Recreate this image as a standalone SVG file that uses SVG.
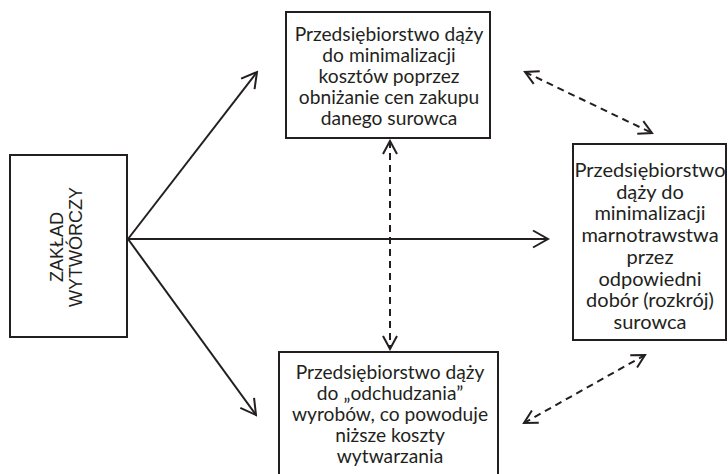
<svg xmlns="http://www.w3.org/2000/svg" width="728" height="474" viewBox="0 0 728 474">
  <style>
    .box { fill: #ffffff; stroke: #231f20; stroke-width: 2; }
    .txt { font-family: Lato, "Open Sans", "DejaVu Sans", sans-serif; font-size: 19.2px; fill: #231f20; text-anchor: middle; }
    .big { font-size: 20px; }
    .cap { font-family: "Liberation Sans", Arial, sans-serif; font-size: 18px; fill: #231f20; text-anchor: middle; }
    .solid { fill: none; stroke: #231f20; stroke-width: 2; }
    .dash { fill: none; stroke: #231f20; stroke-width: 2; stroke-dasharray: 7 5; }
  </style>
  <defs>
    <marker id="head" viewBox="-17 -10 19 20" refX="0" refY="0" markerWidth="19" markerHeight="20" markerUnits="userSpaceOnUse" orient="auto-start-reverse">
      <path d="M-15,-8.5 L0,0 L-15,8.5" fill="none" stroke="#231f20" stroke-width="2"/>
    </marker>
    <marker id="dhead" viewBox="-15 -9 17 18" refX="0" refY="0" markerWidth="17" markerHeight="18" markerUnits="userSpaceOnUse" orient="auto-start-reverse">
      <path d="M-13,-7 L0,0 L-13,7" fill="none" stroke="#231f20" stroke-width="2"/>
    </marker>
  </defs>

  <!-- connectors -->
  <g id="connectors">
    <line class="solid" x1="128" y1="239" x2="257" y2="72" marker-end="url(#head)"/>
    <line class="solid" x1="128" y1="239" x2="548" y2="239" marker-end="url(#head)"/>
    <line class="solid" x1="128" y1="239" x2="256" y2="415" marker-end="url(#head)"/>
    <line class="dash" x1="390" y1="141" x2="390" y2="349" marker-start="url(#dhead)" marker-end="url(#dhead)"/>
    <line class="dash" x1="525" y1="72" x2="652" y2="133" marker-start="url(#dhead)" marker-end="url(#dhead)"/>
    <line class="dash" x1="524" y1="423" x2="645" y2="355" marker-start="url(#dhead)" marker-end="url(#dhead)"/>
  </g>

  <!-- source node -->
  <g id="zaklad">
    <rect class="box" x="10" y="155" width="117" height="182"/>
    <g transform="translate(63,247) rotate(-90)">
      <text class="cap" x="0" y="0">ZAKŁAD</text>
      <text class="cap" x="0" y="18.5">WYTWÓRCZY</text>
    </g>
  </g>

  <!-- purchase cost node -->
  <g id="koszty">
    <rect class="box" x="286" y="12" width="204" height="126"/>
    <text class="txt" x="389" y="41">Przedsiębiorstwo dąży</text>
    <text class="txt" x="389" y="62">do minimalizacji</text>
    <text class="txt" x="389" y="83">kosztów poprzez</text>
    <text class="txt" x="389" y="104">obniżanie cen zakupu</text>
    <text class="txt" x="389" y="125">danego surowca</text>
  </g>

  <!-- waste node -->
  <g id="marnotrawstwo">
    <rect class="box" x="573" y="144" width="153" height="196"/>
    <text class="txt big" x="650" y="177">Przedsiębiorstwo</text>
    <text class="txt big" x="650" y="198.7">dąży do</text>
    <text class="txt big" x="650" y="220.4">minimalizacji</text>
    <text class="txt big" x="650" y="242.1">marnotrawstwa</text>
    <text class="txt big" x="650" y="263.8">przez</text>
    <text class="txt big" x="650" y="285.5">odpowiedni</text>
    <text class="txt big" x="650" y="307.2">dobór (rozkrój)</text>
    <text class="txt big" x="650" y="328.9">surowca</text>
  </g>

  <!-- product slimming node -->
  <g id="odchudzanie">
    <rect class="box" x="279" y="352" width="219" height="130"/>
    <text class="txt" x="390" y="379">Przedsiębiorstwo dąży</text>
    <text class="txt" x="390" y="400">do „odchudzania”</text>
    <text class="txt" x="390" y="421">wyrobów, co powoduje</text>
    <text class="txt" x="390" y="442">niższe koszty</text>
    <text class="txt" x="390" y="463">wytwarzania</text>
  </g>
</svg>
